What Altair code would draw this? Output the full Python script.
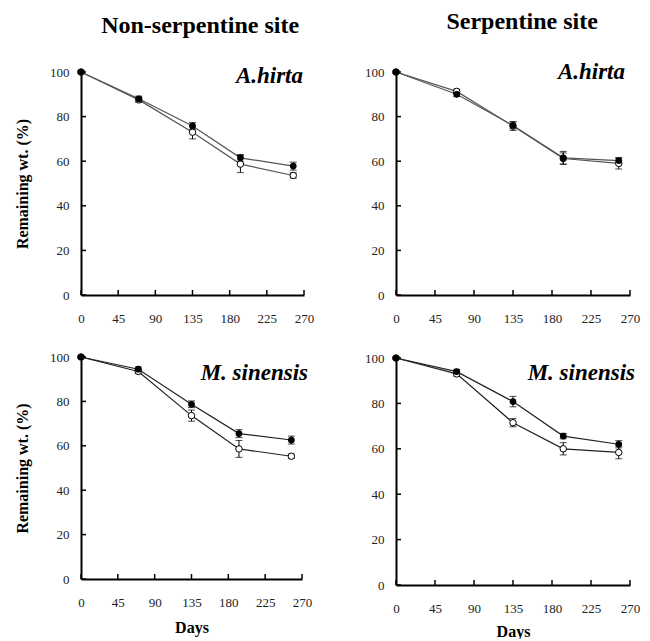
import altair as alt
import pandas as pd

FONT = "Liberation Serif"

days = [0, 70, 135, 193, 257]
x_ticks = [0, 45, 90, 135, 180, 225, 270]
y_ticks = [0, 20, 40, 60, 80, 100]

# Non-serpentine site, A.hirta
ns_ah_filled = [100, 88.0, 75.8, 61.5, 57.8]
ns_ah_filled_err = [0.5, 1.2, 1.5, 1.5, 1.8]
ns_ah_open = [100, 87.5, 73.0, 58.7, 53.6]
ns_ah_open_err = [0.5, 1.2, 3.0, 3.8, 1.2]
# Serpentine site, A.hirta
s_ah_filled = [100, 90.0, 76.0, 61.5, 60.3]
s_ah_filled_err = [0.5, 1.0, 1.5, 2.9, 1.2]
s_ah_open = [100, 91.3, 75.8, 61.2, 59.0]
s_ah_open_err = [0.5, 1.0, 2.0, 2.5, 2.5]
# Non-serpentine site, M. sinensis
ns_ms_filled = [100, 94.5, 78.7, 65.5, 62.6]
ns_ms_filled_err = [0.5, 1.0, 1.5, 1.8, 1.8]
ns_ms_open = [100, 93.5, 73.6, 58.6, 55.3]
ns_ms_open_err = [0.5, 1.0, 2.5, 3.8, 1.0]
# Serpentine site, M. sinensis
s_ms_filled = [100, 94.0, 80.8, 65.6, 62.0]
s_ms_filled_err = [0.5, 1.0, 2.3, 1.2, 1.6]
s_ms_open = [100, 93.0, 71.5, 60.0, 58.4]
s_ms_open_err = [0.5, 1.0, 1.8, 2.7, 2.8]


def make_df(fv, fe, ov, oe):
    rows = []
    for d, v, e in zip(days, fv, fe):
        rows.append({"day": d, "value": v, "lo": v - e, "hi": v + e, "series": "filled"})
    for d, v, e in zip(days, ov, oe):
        rows.append({"day": d, "value": v, "lo": v - e, "hi": v + e, "series": "open"})
    return pd.DataFrame(rows)


def panel(fv, fe, ov, oe, species, w, h, line_color, ytitle, xtitle, sp_dx, sp_y, xtpad=10):
    df = make_df(fv, fe, ov, oe)
    xs = alt.Scale(domain=[0, 270], nice=False)
    ys = alt.Scale(domain=[0, 100], nice=False)
    xaxis = alt.Axis(values=x_ticks, ticks=False, grid=False, domain=True, domainColor="black",
                     domainWidth=2, labelFont=FONT, labelFontSize=13, labelColor="#222222",
                     labelPadding=17, labelFlush=False, labelAngle=0,
                     title=xtitle if xtitle else "", titleFont=FONT, titleFontSize=16,
                     titleFontWeight="bold", titleColor="black", titlePadding=xtpad)
    yaxis = alt.Axis(values=y_ticks, ticks=False, grid=False, domain=True, domainColor="black",
                     domainWidth=2, labelFont=FONT, labelFontSize=13, labelColor="#222222",
                     labelPadding=12, title=ytitle if ytitle else "", titleFont=FONT,
                     titleFontSize=16, titleFontWeight="bold", titleColor="black",
                     titlePadding=19)
    X = lambda f: alt.X(f, scale=xs, axis=xaxis)
    Y = lambda f: alt.Y(f, scale=ys, axis=yaxis)
    base = alt.Chart(df)
    lines = base.mark_line(color=line_color, strokeWidth=1.2).encode(
        x=X("day:Q"), y=Y("value:Q"), detail="series:N")
    bars = base.mark_rule(color="black", strokeWidth=1).encode(
        x=X("day:Q"), y=Y("lo:Q"), y2="hi:Q")
    cap_lo = base.mark_tick(orient="horizontal", color="black", size=7, thickness=1).encode(
        x=X("day:Q"), y=Y("lo:Q"))
    cap_hi = base.mark_tick(orient="horizontal", color="black", size=7, thickness=1).encode(
        x=X("day:Q"), y=Y("hi:Q"))
    pts_f = base.transform_filter(alt.datum.series == "filled").mark_point(
        shape="circle", filled=True, color="black", size=45, opacity=1).encode(
        x=X("day:Q"), y=Y("value:Q"))
    pts_o = base.transform_filter(alt.datum.series == "open").mark_point(
        shape="circle", filled=True, fill="white", stroke="black", strokeWidth=1, size=42,
        opacity=1).encode(x=X("day:Q"), y=Y("value:Q"))
    xt = alt.Chart(pd.DataFrame({"v": x_ticks})).mark_rule(color="black", strokeWidth=1.5).encode(
        x=X("v:Q"), y=alt.value(h), y2=alt.value(h - 5))
    yt = alt.Chart(pd.DataFrame({"v": y_ticks})).mark_rule(color="black", strokeWidth=1.5).encode(
        y=Y("v:Q"), x=alt.value(0), x2=alt.value(5))
    sp = alt.Chart(pd.DataFrame({"t": [species]})).mark_text(
        align="right", baseline="alphabetic", font=FONT, fontSize=23, fontStyle="italic",
        fontWeight="bold", color="black").encode(
        x=alt.value(w + sp_dx), y=alt.value(sp_y), text="t:N")
    return alt.layer(lines, bars, cap_lo, cap_hi, pts_o, pts_f, xt, yt, sp).properties(
        width=w, height=h)


p11 = panel(ns_ah_filled, ns_ah_filled_err, ns_ah_open, ns_ah_open_err, "A.hirta",
            223, 223, "#555555", "Remaining wt. (%)", None, -1, 11)
p21 = panel(ns_ms_filled, ns_ms_filled_err, ns_ms_open, ns_ms_open_err, "M. sinensis",
            221, 222, "#222222", "Remaining wt. (%)", "Days", 6, 23)
p12 = panel(s_ah_filled, s_ah_filled_err, s_ah_open, s_ah_open_err, "A.hirta",
            234, 223, "#555555", None, None, -5, 7)
p22 = panel(s_ms_filled, s_ms_filled_err, s_ms_open, s_ms_open_err, "M. sinensis",
            234, 227, "#222222", None, "Days", 5, 22, xtpad=8)

title_kw = dict(font=FONT, fontSize=24, fontWeight="bold", color="black", anchor="middle", offset=27)
col1 = alt.vconcat(p11, p21, spacing=26,
                   title=alt.TitleParams("Non-serpentine site", dx=36, **title_kw))
col2 = alt.vconcat(p12, p22, spacing=27,
                   title=alt.TitleParams("Serpentine site", dx=20, **title_kw))

chart = alt.hconcat(col1, col2, spacing=50).properties(
    padding={"left": 6, "top": 2, "right": 2, "bottom": 0}
).configure_view(stroke=None).configure_title(font=FONT)

chart.save("out.html", embed_options={"renderer": "svg", "actions": False})
